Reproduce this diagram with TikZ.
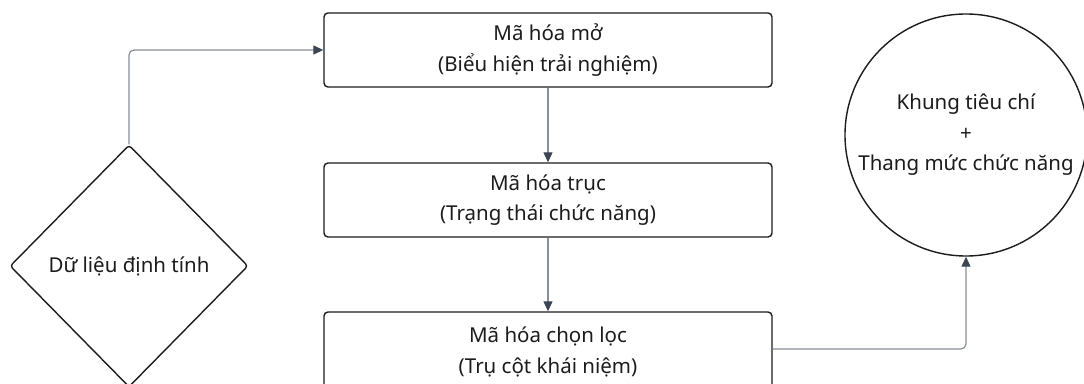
\documentclass[tikz,border=0pt]{standalone}
\usepackage{fontspec}
\setmainfont{Noto Sans}
\usetikzlibrary{arrows.meta,shapes.geometric}
\definecolor{inkc}{HTML}{1C1C1C}
\definecolor{linec}{HTML}{8A9099}
\definecolor{tipc}{HTML}{3B4553}
\tikzset{
  stagebox/.style={draw=inkc, line width=1.4pt, rounded corners=4pt,
    minimum width=448pt, minimum height=74pt, align=center,
    text=inkc, inner sep=0pt},
  sourcebox/.style={draw=inkc, line width=1.4pt, diamond, rounded corners=3pt,
    minimum width=238pt, minimum height=242pt, inner sep=0pt, text=inkc},
  resultbox/.style={draw=inkc, line width=1.4pt, circle, minimum size=242pt,
    inner sep=0pt, align=center, text=inkc},
  conn/.style={draw=linec, line width=1.2pt, rounded corners=5pt,
    -{Triangle[length=10pt,width=9pt,color=tipc]}},
  every node/.append style={font=\fontsize{20.5}{30.5}\selectfont}
}
\begin{document}
\begin{tikzpicture}[x=1pt,y=-1pt]
  \useasboundingbox (0,0) rectangle (1084,383);
  \fill[white] (0,0) rectangle (1084,383);

  \node[stagebox] (open) at (548,50) {Mã hóa mở\\(Biểu hiện trải nghiệm)};
  \node[stagebox] (axial) at (548,200) {Mã hóa trục\\(Trạng thái chức năng)};
  \node[stagebox, minimum height=80pt] (select) at (548,352) {Mã hóa chọn lọc\\(Trụ cột khái niệm)};
  \node[sourcebox] (data) at (129,266) {Dữ liệu định tính};
  \node[resultbox] (frame) at (966,135) {Khung tiêu chí\\+\\Thang mức chức năng};

  \draw[conn] (data.north) |- (open.west);
  \draw[conn] (open.south) -- (axial.north);
  \draw[conn] (axial.south) -- (select.north);
  \draw[conn] ([yshift=3pt]select.east) -| (frame.south);
\end{tikzpicture}
\end{document}
